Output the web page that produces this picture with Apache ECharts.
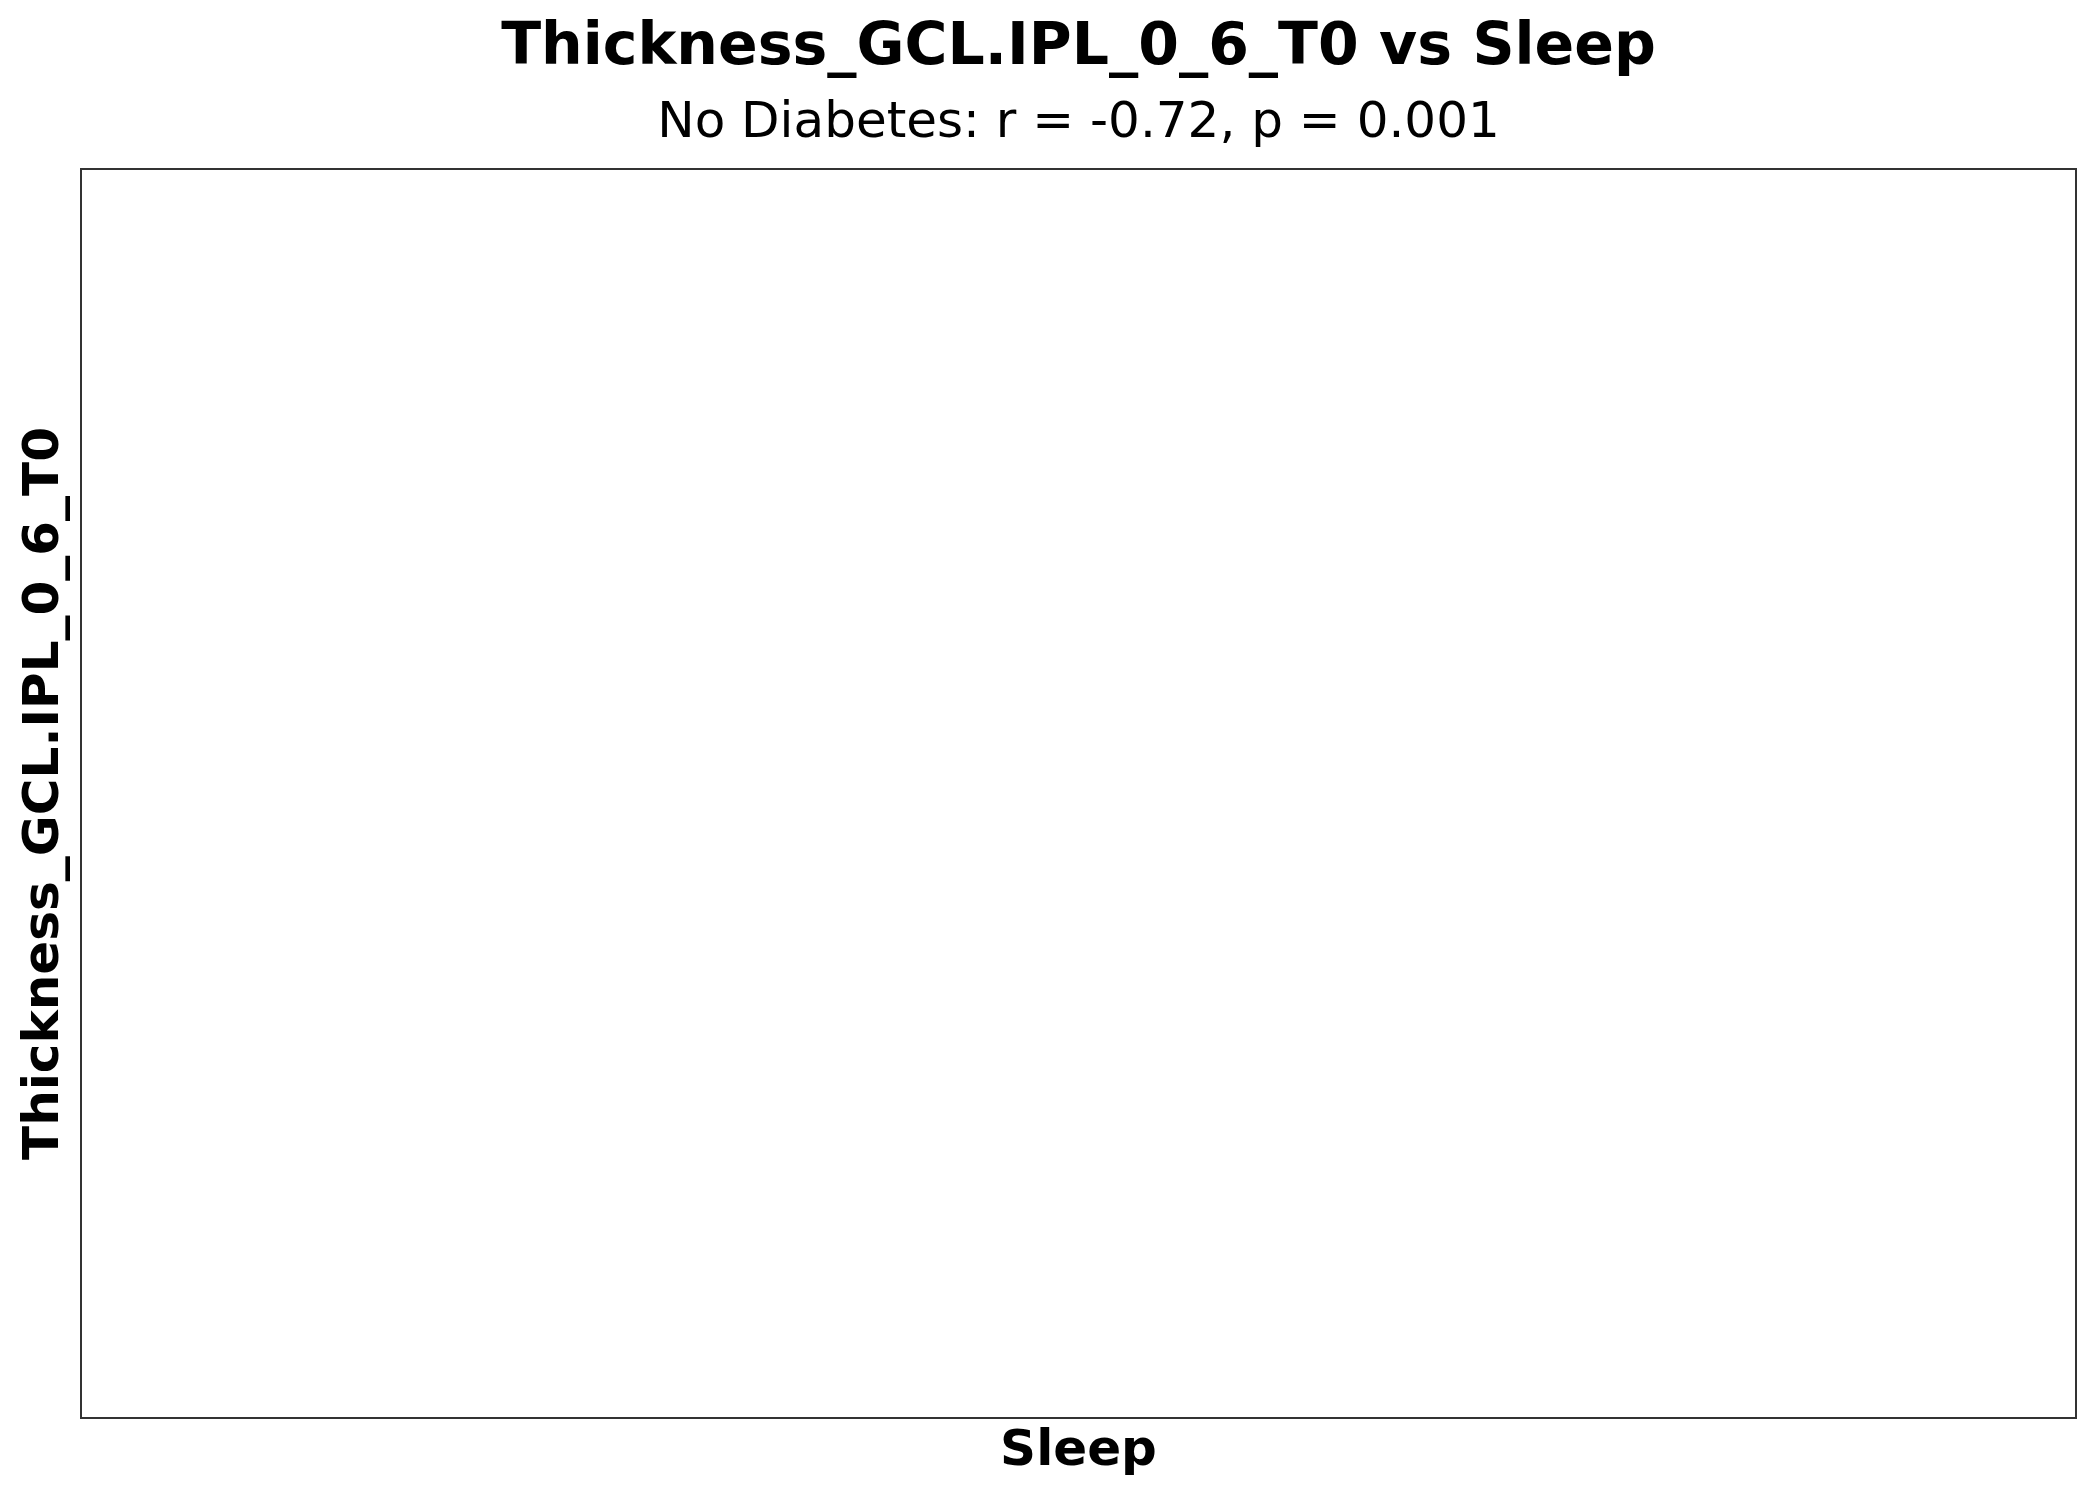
<!DOCTYPE html>
<html>
<head>
<meta charset="utf-8">
<script src="https://cdn.jsdelivr.net/npm/echarts@6/dist/echarts.min.js"></script>
<style>
  html, body { margin: 0; padding: 0; background: #fff; }
  #chart { width: 2100px; height: 1500px; }
</style>
</head>
<body>
<div id="chart"></div>
<script>
// Data (the reference plot contains no visible points)
const sleepValues = [];
const thicknessValues = [];
const titleText = 'Thickness_GCL.IPL_0_6_T0 vs Sleep';
const subtitleText = 'No Diabetes: r = -0.72, p = 0.001';
const xLabel = 'Sleep';
const yLabel = 'Thickness_GCL.IPL_0_6_T0';

const points = sleepValues.map((x, i) => [x, thicknessValues[i]]);

const chart = echarts.init(document.getElementById('chart'), null, { renderer: 'canvas' });
const FONT = 'DejaVu Sans';
const gridLeft = 81, gridRight = 24, gridTop = 169, gridBottom = 82;
const cx = gridLeft + (2100 - gridLeft - gridRight) / 2;

chart.setOption({
  backgroundColor: '#ffffff',
  animation: false,
  grid: {
    left: gridLeft, right: gridRight, top: gridTop, bottom: gridBottom,
    show: true, borderColor: '#333333', borderWidth: 2, backgroundColor: 'transparent'
  },
  xAxis: {
    type: 'value', min: 0, max: 1,
    name: xLabel, nameLocation: 'middle', nameGap: 9,
    nameTextStyle: { fontFamily: FONT, fontWeight: 'bold', fontSize: 50, color: '#000', verticalAlign: 'top' },
    axisLine: { show: false }, axisTick: { show: false }, axisLabel: { show: false }, splitLine: { show: false }
  },
  yAxis: {
    type: 'value', min: 0, max: 1,
    name: yLabel, nameLocation: 'middle', nameGap: 11, nameRotate: 90,
    nameTextStyle: { fontFamily: FONT, fontWeight: 'bold', fontSize: 50, color: '#000' },
    axisLine: { show: false }, axisTick: { show: false }, axisLabel: { show: false }, splitLine: { show: false }
  },
  graphic: [
    { type: 'text', x: cx, y: 48.5, style: { text: titleText, fontFamily: FONT, fontWeight: 'bold', fontSize: 58.5, fill: '#000', textAlign: 'center', textVerticalAlign: 'middle' } },
    { type: 'text', x: cx, y: 124, style: { text: subtitleText, fontFamily: FONT, fontSize: 50, fill: '#000', textAlign: 'center', textVerticalAlign: 'middle' } }
  ],
  series: [{
    type: 'scatter',
    data: points,
    symbolSize: 12,
    itemStyle: { color: '#1f77b4' }
  }]
});
</script>
</body>
</html>
